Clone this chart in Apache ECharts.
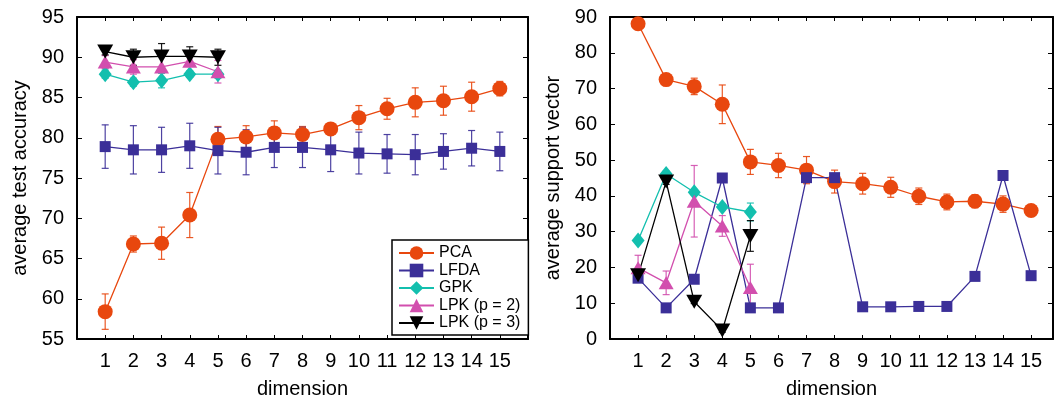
<!DOCTYPE html>
<html>
<head>
    <meta charset="utf-8">
    <title>accuracy and support vectors</title>
    <script src="https://cdn.jsdelivr.net/npm/echarts@6/dist/echarts.min.js"></script>
    <style>
        html, body {margin: 0; padding: 0; background: #fff;}
        #main {width: 1056px; height: 404px;}
    </style>
</head>
<body>
<div id="main"></div>
<script type="text/javascript">
    // dimension values (x)
    var dims = [1, 2, 3, 4, 5, 6, 7, 8, 9, 10, 11, 12, 13, 14, 15];
    var names = ['PCA', 'LFDA', 'GPK', 'LPK (p = 2)', 'LPK (p = 3)'];

    // left: average test accuracy (mean, +/- error)
    var accPCA = [58.4, 66.8, 66.9, 70.4, 79.8, 80.1, 80.6, 80.4, 81.1, 82.5, 83.6, 84.4, 84.6, 85.1, 86.1];
    var accPCAErr = [2.2, 1.0, 2.0, 2.8, 1.6, 1.4, 1.5, 1.0, 0.4, 1.5, 1.3, 1.8, 1.8, 1.8, 0.9];
    var accLFDA = [78.9, 78.5, 78.5, 79.0, 78.4, 78.2, 78.8, 78.8, 78.5, 78.1, 78.0, 77.9, 78.3, 78.7, 78.3];
    var accLFDAErr = [2.7, 3.0, 2.8, 2.8, 2.9, 2.8, 2.5, 2.5, 2.7, 2.6, 2.4, 2.5, 2.2, 2.2, 2.4];
    var accGPK = [87.9, 86.9, 87.1, 87.9, 87.9];
    var accGPKErr = [0.5, 0.5, 0.9, 0.4, 0.5];
    var accLPK2 = [89.4, 88.8, 88.8, 89.5, 88.2];
    var accLPK2Err = [0.8, 0.9, 1.6, 0.6, 1.4];
    var accLPK3 = [90.7, 90.0, 90.1, 90.1, 90.0];
    var accLPK3Err = [0.4, 1.0, 1.6, 1.2, 1.0];

    // right: average number of support vectors
    var svPCA = [88.1, 72.5, 70.6, 65.6, 49.5, 48.5, 47.2, 44.0, 43.4, 42.4, 39.9, 38.3, 38.5, 37.7, 35.9];
    var svPCAErr = [0.8, 1.5, 2.3, 5.4, 3.5, 3.4, 3.8, 3.2, 2.9, 2.8, 2.3, 2.2, 1.8, 2.3, 0.5];
    var svLFDA = [17.0, 8.7, 16.7, 45.0, 8.7, 8.7, 45.1, 45.1, 9.0, 9.0, 9.1, 9.1, 17.5, 45.7, 17.7];
    var svGPK = [27.5, 46.1, 41.0, 36.9, 35.5];
    var svGPKErr = [0.5, 0.8, 0.8, 0.8, 2.5];
    var svLPK2 = [19.9, 15.7, 38.5, 31.6, 14.4];
    var svLPK2Err = [3.5, 3.3, 10.0, 2.9, 6.5];
    var svLPK3 = [17.8, 44.0, 10.4, 2.4, 28.8];
    var svLPK3Err = [0.5, 0.8, 0.5, 0.5, 4.3];

    var colors = ['#e8470e', '#3b2f98', '#13bfae', '#d24fae', '#000000'];
    var font = '"Liberation Sans", Arial, sans-serif';

    function pairs(vals) {
        return vals.map(function (v, i) { return [dims[i], v]; });
    }
    function errs(vals, e) {
        return vals.map(function (v, i) { return [dims[i], v - e[i], v + e[i]]; });
    }

    function errorBar(color) {
        return function (params, api) {
            var lo = api.coord([api.value(0), api.value(1)]);
            var hi = api.coord([api.value(0), api.value(2)]);
            var w = 3.5;
            var st = {stroke: color, lineWidth: 1.2, opacity: 0.9};
            return {type: 'group', children: [
                {type: 'line', shape: {x1: lo[0], y1: lo[1], x2: hi[0], y2: hi[1]}, style: st},
                {type: 'line', shape: {x1: lo[0] - w, y1: lo[1], x2: lo[0] + w, y2: lo[1]}, style: st},
                {type: 'line', shape: {x1: hi[0] - w, y1: hi[1], x2: hi[0] + w, y2: hi[1]}, style: st}
            ]};
        };
    }

    var marks = [
        {symbol: 'circle', size: 15, rotate: 0},
        {symbol: 'rect', size: 11, rotate: 0},
        {symbol: 'diamond', size: [13, 16], rotate: 0},
        {symbol: 'triangle', size: [15, 13], rotate: 0},
        {symbol: 'triangle', size: [16, 14], rotate: 180}
    ];

    function lineSeries(k, vals, gi) {
        return {
            name: names[k], type: 'line', xAxisIndex: gi * 2, yAxisIndex: gi * 2,
            data: pairs(vals),
            symbol: marks[k].symbol, symbolSize: marks[k].size, symbolRotate: marks[k].rotate,
            lineStyle: {color: colors[k], width: 1.3},
            itemStyle: {color: colors[k]},
            animation: false
        };
    }
    function errSeries(k, vals, e, gi) {
        return {
            name: names[k] + ' err', type: 'custom', xAxisIndex: gi * 2, yAxisIndex: gi * 2,
            data: errs(vals, e), encode: {x: 0, y: [1, 2]},
            renderItem: errorBar(colors[k]),
            animation: false
        };
    }

    function xAxis(gi, pos, max) {
        var bottom = pos === 'bottom';
        return {
            type: 'value', gridIndex: gi, position: pos, min: 0, max: max, interval: 1,
            axisLine: {show: true, onZero: false, lineStyle: {color: '#000', width: 2}},
            axisTick: {show: true, inside: true, length: 4, lineStyle: {color: '#000', width: 1}},
            axisLabel: {
                show: bottom, margin: 12, fontSize: 20, color: '#000', fontFamily: font,
                formatter: function (v) { return (v >= 1 && v <= 15 && v % 1 === 0) ? String(v) : ''; }
            },
            splitLine: {show: false},
            name: bottom ? 'dimension' : '', nameLocation: 'middle', nameGap: 40,
            nameTextStyle: {fontSize: 20, color: '#000', fontFamily: font}
        };
    }
    function yAxis(gi, pos, min, max, step, title) {
        var left = pos === 'left';
        return {
            type: 'value', gridIndex: gi, position: pos, min: min, max: max, interval: step,
            axisLine: {show: true, onZero: false, lineStyle: {color: '#000', width: 2}},
            axisTick: {show: true, inside: true, length: 5, lineStyle: {color: '#000', width: 1}},
            axisLabel: {show: left, margin: 13, fontSize: 20, color: '#000', fontFamily: font},
            splitLine: {show: false},
            name: left ? title : '', nameLocation: 'middle', nameGap: 47,
            nameTextStyle: {fontSize: 20, color: '#000', fontFamily: font}
        };
    }

    var series = [
        errSeries(0, accPCA, accPCAErr, 0), lineSeries(0, accPCA, 0),
        errSeries(1, accLFDA, accLFDAErr, 0), lineSeries(1, accLFDA, 0),
        errSeries(2, accGPK, accGPKErr, 0), lineSeries(2, accGPK, 0),
        errSeries(3, accLPK2, accLPK2Err, 0), lineSeries(3, accLPK2, 0),
        errSeries(4, accLPK3, accLPK3Err, 0), lineSeries(4, accLPK3, 0),

        errSeries(0, svPCA, svPCAErr, 1), lineSeries(0, svPCA, 1),
        lineSeries(1, svLFDA, 1),
        errSeries(2, svGPK, svGPKErr, 1), lineSeries(2, svGPK, 1),
        errSeries(3, svLPK2, svLPK2Err, 1), lineSeries(3, svLPK2, 1),
        errSeries(4, svLPK3, svLPK3Err, 1), lineSeries(4, svLPK3, 1)
    ];

    var chart = echarts.init(document.getElementById('main'));
    chart.setOption({
        animation: false,
        grid: [
            {left: 77, top: 17, width: 451, height: 326},
            {left: 610, top: 17, width: 446, height: 326}
        ],
        xAxis: [xAxis(0, 'bottom', 16), xAxis(0, 'top', 16), xAxis(1, 'bottom', 15.78), xAxis(1, 'top', 15.78)],
        yAxis: [
            yAxis(0, 'left', 55, 95, 5, 'average test accuracy'), yAxis(0, 'right', 55, 95, 5, ''),
            yAxis(1, 'left', 0, 90, 10, 'average support vector'), yAxis(1, 'right', 0, 90, 10, '')
        ],
        legend: {
            data: names, orient: 'vertical', left: 392, top: 240,
            padding: [5, 8, 4, 6], itemWidth: 35, itemHeight: 17, itemGap: 1.5,
            borderColor: '#000', borderWidth: 1.5, backgroundColor: '#fff',
            textStyle: {fontSize: 16, color: '#000', fontFamily: font}
        },
        series: series
    });
</script>
</body>
</html>
